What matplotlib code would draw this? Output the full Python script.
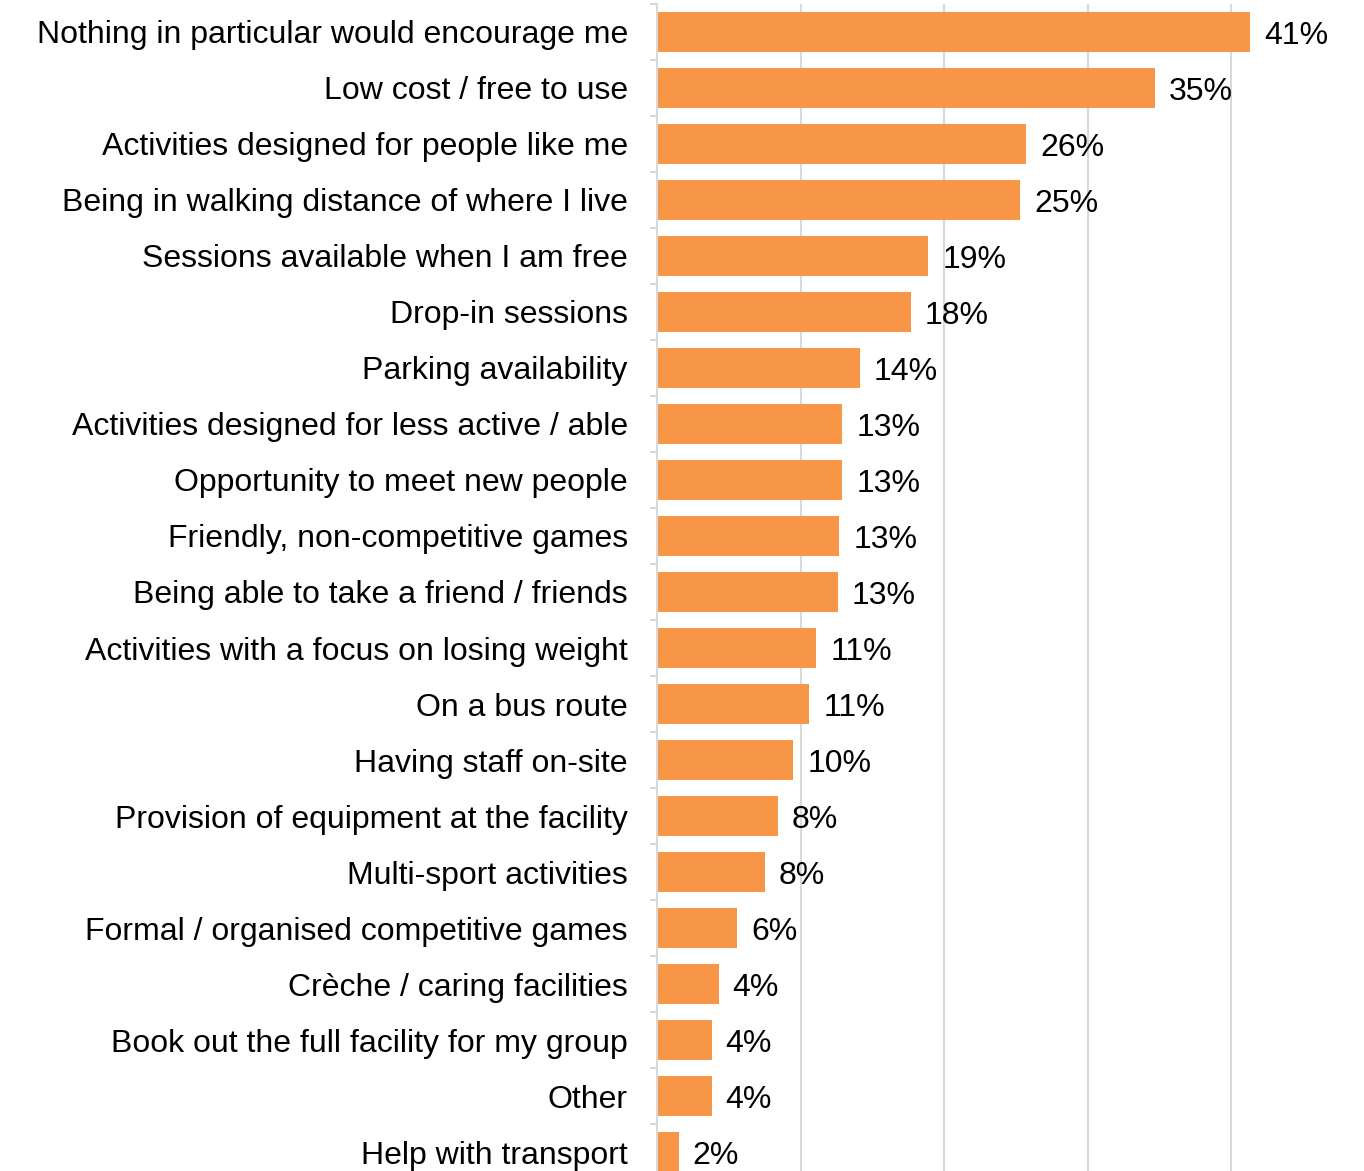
import matplotlib.pyplot as plt
import numpy as np

plt.rcParams['font.family'] = ['Liberation Sans', 'DejaVu Sans']

reasons = [
    'Nothing in particular would encourage me',
    'Low cost / free to use',
    'Activities designed for people like me',
    'Being in walking distance of where I live',
    'Sessions available when I am free',
    'Drop-in sessions',
    'Parking availability',
    'Activities designed for less active / able',
    'Opportunity to meet new people',
    'Friendly, non-competitive games',
    'Being able to take a friend / friends',
    'Activities with a focus on losing weight',
    'On a bus route',
    'Having staff on-site',
    'Provision of equipment at the facility',
    'Multi-sport activities',
    'Formal / organised competitive games',
    'Crèche / caring facilities',
    'Book out the full facility for my group',
    'Other',
    'Help with transport',
]
share = [41.3, 34.7, 25.7, 25.3, 18.9, 17.7, 14.1, 12.9, 12.9, 12.7, 12.6,
         11.1, 10.6, 9.5, 8.4, 7.5, 5.6, 4.3, 3.8, 3.8, 1.5]

orange = '#F79646'
grey = '#D9D9D9'

fig = plt.figure(figsize=(13.64, 11.71), dpi=100)
ax = fig.add_axes([0.4817, -0.0077, 0.4738, 1.0043])

y = np.arange(len(reasons))
ax.barh(y, share, height=0.7, color=orange, zorder=2)
for yi, v in zip(y, share):
    ax.annotate(f'{v:.0f}%', (v, yi), xytext=(10, -3), textcoords='offset points',
                va='center', ha='left', fontsize=23, clip_on=False)

ax.set_xlim(0, 45)
ax.set_ylim(len(reasons) - 0.5, -0.5)
ax.set_xticks([10, 20, 30, 40])
ax.xaxis.grid(True, color=grey, linewidth=1.5, zorder=0)
ax.tick_params(axis='x', length=0, labelbottom=False)

ax.set_yticks(y)
ax.set_yticklabels(reasons, fontsize=23)
ax.set_yticks(np.arange(len(reasons) + 1) - 0.5, minor=True)
ax.tick_params(axis='y', which='major', length=0, pad=21)
ax.tick_params(axis='y', which='minor', length=5, width=1.5, color=grey)

for side in ['top', 'right', 'bottom']:
    ax.spines[side].set_visible(False)
ax.spines['left'].set_color(grey)
ax.spines['left'].set_linewidth(1.5)

fig.savefig('out.png', dpi=100)
